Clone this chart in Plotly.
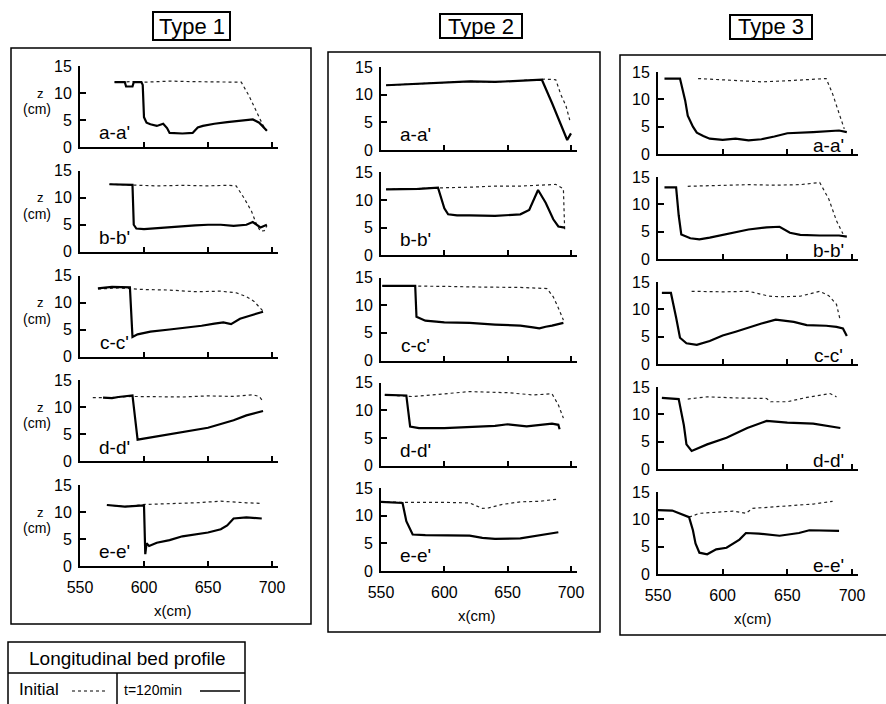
import plotly.graph_objects as go

# ---------------- data (x in cm, z in cm) ----------------
# Type 1
t1a_init_x = [577, 590, 600, 620, 640, 660, 676, 682, 688, 693, 696]
t1a_init_z = [12.0, 12.1, 12.0, 12.2, 12.1, 12.0, 12.0, 9.5, 6.5, 4.0, 3.0]
t1a_fin_x = [577, 585, 586, 591, 592, 598, 599, 600, 601, 602, 605, 610, 615, 618, 620, 630, 638, 642, 646, 655, 665, 675, 685, 690, 696]
t1a_fin_z = [12.0, 12.0, 11.2, 11.2, 12.0, 12.0, 11.5, 5.5, 5.0, 4.5, 4.2, 3.9, 4.3, 3.5, 2.6, 2.5, 2.6, 3.6, 3.9, 4.3, 4.6, 4.9, 5.1, 4.5, 3.0]

t1b_init_x = [573, 590, 610, 630, 650, 665, 672, 678, 684, 688, 691, 694, 696]
t1b_init_z = [12.5, 12.4, 12.2, 12.3, 12.2, 12.3, 12.2, 10.0, 7.5, 5.0, 3.8, 3.9, 4.8]
t1b_fin_x = [573, 585, 591, 592, 594, 600, 610, 620, 630, 640, 650, 660, 670, 680, 685, 688, 691, 696]
t1b_fin_z = [12.5, 12.5, 12.4, 5.0, 4.3, 4.2, 4.4, 4.5, 4.8, 4.9, 5.0, 5.0, 4.8, 5.0, 5.5, 5.0, 4.5, 5.0]

t1c_init_x = [564, 580, 600, 620, 640, 660, 672, 680, 686, 690, 693]
t1c_init_z = [12.5, 12.7, 12.4, 12.3, 12.0, 12.1, 11.8, 11.1, 10.2, 9.2, 8.4]
t1c_fin_x = [564, 575, 589, 590.5, 591, 595, 605, 620, 635, 645, 655, 662, 668, 675, 682, 688, 693]
t1c_fin_z = [12.6, 12.9, 12.8, 4.2, 3.6, 4.1, 4.6, 5.0, 5.4, 5.7, 6.1, 6.3, 6.0, 7.0, 7.5, 7.9, 8.3]

t1d_init_x = [560, 575, 590, 610, 630, 650, 670, 685, 690, 693]
t1d_init_z = [11.8, 11.8, 12.0, 11.9, 11.9, 12.1, 12.0, 12.3, 12.0, 11.1]
t1d_fin_x = [568, 575, 580, 591, 595, 600, 610, 620, 630, 640, 650, 660, 670, 680, 688, 693]
t1d_fin_z = [11.8, 11.7, 11.9, 12.2, 4.0, 4.2, 4.6, 5.0, 5.3, 5.7, 6.2, 6.9, 7.6, 8.5, 9.0, 9.3]

t1e_init_x = [571, 585, 601, 620, 640, 660, 670, 680, 692]
t1e_init_z = [11.3, 11.0, 11.4, 11.5, 11.7, 12.0, 11.8, 11.7, 11.6]
t1e_fin_x = [571, 585, 600, 601, 602, 604, 610, 620, 630, 640, 650, 660, 665, 670, 680, 692]
t1e_fin_z = [11.3, 11.0, 11.2, 2.2, 4.2, 3.7, 4.3, 4.8, 5.5, 5.8, 6.2, 6.8, 7.5, 8.8, 9.0, 8.8]

# Type 2
t2a_init_x = [554, 580, 600, 620, 640, 660, 680, 688, 692, 696, 699]
t2a_init_z = [11.7, 12.0, 12.3, 12.4, 12.3, 12.5, 12.8, 12.7, 10.0, 8.0, 5.4]
t2a_fin_x = [554, 580, 600, 620, 640, 660, 677, 685, 694, 697, 700]
t2a_fin_z = [11.7, 12.0, 12.3, 12.4, 12.3, 12.5, 12.7, 8.5, 3.6, 1.8, 3.0]

t2b_init_x = [554, 580, 600, 620, 640, 660, 675, 688, 694, 695]
t2b_init_z = [11.9, 12.0, 12.2, 12.3, 12.5, 12.5, 12.7, 12.8, 12.0, 4.6]
t2b_fin_x = [554, 580, 595, 600, 603, 610, 620, 640, 660, 667, 674, 680, 686, 690, 695]
t2b_fin_z = [11.9, 12.0, 12.2, 8.5, 7.4, 7.2, 7.2, 7.1, 7.4, 8.2, 11.8, 9.5, 6.5, 5.2, 5.0]

t2c_init_x = [551, 575, 600, 620, 640, 660, 681, 686, 690, 694]
t2c_init_z = [13.5, 13.5, 13.4, 13.3, 13.3, 13.2, 13.0, 11.5, 9.5, 7.3]
t2c_fin_x = [551, 565, 577, 578, 585, 600, 620, 640, 660, 670, 675, 680, 685, 694]
t2c_fin_z = [13.5, 13.5, 13.5, 7.9, 7.2, 6.9, 6.8, 6.5, 6.3, 6.0, 5.8, 6.1, 6.3, 6.8]

t2d_init_x = [553, 575, 600, 620, 650, 670, 685, 690, 694]
t2d_init_z = [12.8, 12.5, 13.0, 13.4, 13.2, 12.8, 13.0, 11.0, 8.6]
t2d_fin_x = [553, 570, 573, 580, 600, 620, 640, 650, 665, 685, 690, 691]
t2d_fin_z = [12.8, 12.7, 7.1, 6.8, 6.8, 7.0, 7.2, 7.5, 7.1, 7.6, 7.4, 6.6]

t2e_init_x = [550, 570, 600, 620, 625, 630, 635, 645, 660, 675, 690]
t2e_init_z = [12.5, 12.4, 12.4, 12.3, 11.8, 11.3, 11.4, 12.0, 12.5, 12.6, 13.0]
t2e_fin_x = [550, 567, 570, 575, 585, 600, 620, 630, 640, 660, 675, 685, 690]
t2e_fin_z = [12.5, 12.3, 9.0, 6.6, 6.5, 6.5, 6.4, 6.0, 5.8, 5.9, 6.4, 6.7, 7.0]

# Type 3
t3a_init_x = [581, 595, 610, 630, 650, 670, 680, 685, 690, 694]
t3a_init_z = [13.8, 13.6, 13.5, 13.2, 13.4, 13.7, 13.8, 11.0, 7.5, 4.6]
t3a_fin_x = [555, 567, 571, 573, 577, 580, 585, 590, 600, 610, 620, 630, 640, 650, 670, 690, 696]
t3a_fin_z = [13.8, 13.8, 9.8, 7.0, 5.0, 3.9, 3.3, 2.8, 2.6, 2.8, 2.5, 2.7, 3.2, 3.8, 4.0, 4.3, 4.0]

t3b_init_x = [573, 600, 620, 640, 660, 675, 682, 688, 693]
t3b_init_z = [13.3, 13.5, 13.6, 13.5, 13.6, 14.0, 11.0, 7.0, 4.6]
t3b_fin_x = [555, 564, 566, 568, 575, 582, 590, 600, 610, 620, 634, 644, 652, 660, 675, 690, 696]
t3b_fin_z = [13.1, 13.1, 8.0, 4.5, 3.8, 3.6, 3.9, 4.4, 5.0, 5.4, 5.8, 5.9, 4.8, 4.4, 4.3, 4.3, 4.1]

t3c_init_x = [576, 600, 620, 636, 645, 660, 675, 682, 688, 691]
t3c_init_z = [13.3, 13.2, 13.3, 12.4, 12.3, 12.4, 13.3, 12.5, 10.9, 7.9]
t3c_fin_x = [553, 560, 564, 567, 572, 580, 590, 600, 610, 620, 630, 641, 655, 665, 680, 688, 693, 696]
t3c_fin_z = [13.0, 13.0, 8.5, 4.8, 3.8, 3.5, 4.2, 5.2, 5.9, 6.7, 7.4, 8.1, 7.7, 7.1, 7.0, 6.8, 6.5, 5.1]

t3d_init_x = [573, 588, 610, 634, 637, 650, 665, 683, 688]
t3d_init_z = [12.8, 13.2, 13.0, 12.9, 12.3, 12.3, 13.1, 13.8, 13.2]
t3d_fin_x = [553, 566, 570, 572, 576, 588, 603, 619, 634, 650, 670, 691]
t3d_fin_z = [13.0, 12.8, 8.0, 4.5, 3.3, 4.5, 5.7, 7.5, 8.8, 8.5, 8.3, 7.5]

t3e_init_x = [574, 582, 608, 618, 623, 649, 670, 685]
t3e_init_z = [10.4, 11.1, 11.5, 11.1, 12.0, 12.5, 12.8, 13.3]
t3e_fin_x = [550, 561, 574, 577, 579, 582, 588, 595, 603, 613, 618, 628, 644, 659, 667, 690]
t3e_fin_z = [11.7, 11.6, 10.4, 8.0, 5.6, 3.9, 3.6, 4.5, 4.8, 6.3, 7.5, 7.4, 7.0, 7.5, 8.0, 7.9]

type_titles = ["Type 1", "Type 2", "Type 3"]
row_labels = ["a-a'", "b-b'", "c-c'", "d-d'", "e-e'"]
x_ticks = [550, 600, 650, 700]
z_ticks = [0, 5, 10, 15]

panels = [
    [(t1a_init_x, t1a_init_z, t1a_fin_x, t1a_fin_z), (t1b_init_x, t1b_init_z, t1b_fin_x, t1b_fin_z),
     (t1c_init_x, t1c_init_z, t1c_fin_x, t1c_fin_z), (t1d_init_x, t1d_init_z, t1d_fin_x, t1d_fin_z),
     (t1e_init_x, t1e_init_z, t1e_fin_x, t1e_fin_z)],
    [(t2a_init_x, t2a_init_z, t2a_fin_x, t2a_fin_z), (t2b_init_x, t2b_init_z, t2b_fin_x, t2b_fin_z),
     (t2c_init_x, t2c_init_z, t2c_fin_x, t2c_fin_z), (t2d_init_x, t2d_init_z, t2d_fin_x, t2d_fin_z),
     (t2e_init_x, t2e_init_z, t2e_fin_x, t2e_fin_z)],
    [(t3a_init_x, t3a_init_z, t3a_fin_x, t3a_fin_z), (t3b_init_x, t3b_init_z, t3b_fin_x, t3b_fin_z),
     (t3c_init_x, t3c_init_z, t3c_fin_x, t3c_fin_z), (t3d_init_x, t3d_init_z, t3d_fin_x, t3d_fin_z),
     (t3e_init_x, t3e_init_z, t3e_fin_x, t3e_fin_z)],
]

# ---------------- layout geometry (pixels) ----------------
W, H = 886, 704
FONT = "Liberation Sans, Arial, sans-serif"


def px(v):
    return v / W


def py(v):
    return 1 - v / H


def txt(x, y, text, size, xref="paper", yref="paper", xanchor="center"):
    return dict(x=x, y=y, xref=xref, yref=yref, text=text, showarrow=False,
                xanchor=xanchor, yanchor="middle",
                font=dict(size=size, family=FONT, color="black"))


COLS = [
    dict(x0=80, s=1.28, top=66, sp=104.75, h=81, lab_x=577, lab_z=2.6),
    dict(x0=381, s=1.2667, top=67, sp=105.25, h=83, lab_x=577, lab_z=2.8),
    dict(x0=658, s=1.2933, top=72, sp=105, h=82, lab_x=682, lab_z=1.6),
]
XMIN, XMAX = 550, 705

fig = go.Figure()
layout = dict(
    width=W, height=H, margin=dict(l=0, r=0, t=0, b=0, pad=0, autoexpand=False),
    paper_bgcolor="white", plot_bgcolor="white", showlegend=False,
    font=dict(family=FONT, color="black"),
)
annotations = []
shapes = []

for c, col in enumerate(COLS):
    for r in range(5):
        idx = c * 5 + r + 1
        sfx = "" if idx == 1 else str(idx)
        top = col["top"] + r * col["sp"]
        bot = top + col["h"]
        xd = [px(col["x0"]), px(col["x0"] + (XMAX - XMIN) * col["s"])]
        yd = [py(bot), py(top)]
        layout["xaxis" + sfx] = dict(
            domain=xd, range=[XMIN, XMAX], anchor="y" + sfx, tickvals=x_ticks,
            ticks="inside", ticklen=5, tickwidth=1.5, tickcolor="black",
            showline=True, linecolor="black", linewidth=2, showgrid=False, zeroline=False,
            showticklabels=(r == 4), tickfont=dict(size=16, family=FONT, color="black"),
            ticklabelstandoff=6, fixedrange=True, automargin=False,
        )
        layout["yaxis" + sfx] = dict(
            domain=yd, range=[0, 15], anchor="x" + sfx, tickvals=z_ticks,
            ticks="inside", ticklen=6, tickwidth=1.5, tickcolor="black",
            showline=True, linecolor="black", linewidth=2, showgrid=False, zeroline=False,
            tickfont=dict(size=16, family=FONT, color="black"),
            ticklabelstandoff=3, fixedrange=True, automargin=False,
        )
        ix, iz, fx, fz = panels[c][r]
        fig.add_trace(go.Scatter(x=ix, y=iz, xaxis="x" + sfx, yaxis="y" + sfx, mode="lines",
                                 line=dict(color="#222", width=1.2, dash="dot"), cliponaxis=False,
                                 hoverinfo="skip"))
        fig.add_trace(go.Scatter(x=fx, y=fz, xaxis="x" + sfx, yaxis="y" + sfx, mode="lines",
                                 line=dict(color="black", width=2.2), cliponaxis=False,
                                 hoverinfo="skip"))
        annotations.append(txt(col["lab_x"], col["lab_z"], row_labels[r], 19,
                               xref="x" + sfx, yref="y" + sfx))
        if c == 0:
            annotations.append(txt(px(40), 10.0, "z", 13, yref="y" + sfx))
            annotations.append(txt(px(37), 7.0, "(cm)", 14, yref="y" + sfx))

# x-axis titles
for cx, cy in [(173, 610), (477, 615), (753, 618)]:
    annotations.append(txt(px(cx), py(cy), "x(cm)", 15))

# panel boxes
for x0, y0, x1, y1 in [(11, 48, 311, 624), (328, 52, 600, 632), (620, 55, 892, 635)]:
    shapes.append(dict(type="rect", xref="paper", yref="paper", x0=px(x0), x1=px(x1),
                       y0=py(y1), y1=py(y0), line=dict(color="black", width=1.5)))

# type title boxes
for t, (x0, y0, x1, y1) in zip(type_titles, [(153, 12, 230, 40), (440, 14, 522, 38), (730, 15, 812, 39)]):
    shapes.append(dict(type="rect", xref="paper", yref="paper", x0=px(x0), x1=px(x1),
                       y0=py(y1), y1=py(y0), line=dict(color="black", width=2)))
    annotations.append(txt(px((x0 + x1) / 2), py((y0 + y1) / 2), t, 22))

# legend table
shapes.append(dict(type="rect", xref="paper", yref="paper", x0=px(8), x1=px(245),
                   y0=py(712), y1=py(642), line=dict(color="black", width=1.5)))
shapes.append(dict(type="line", xref="paper", yref="paper", x0=px(8), x1=px(245),
                   y0=py(673), y1=py(673), line=dict(color="black", width=1.5)))
shapes.append(dict(type="line", xref="paper", yref="paper", x0=px(117), x1=px(117),
                   y0=py(712), y1=py(673), line=dict(color="black", width=1.5)))
shapes.append(dict(type="line", xref="paper", yref="paper", x0=px(72), x1=px(108),
                   y0=py(691), y1=py(691), line=dict(color="black", width=1, dash="dot")))
shapes.append(dict(type="line", xref="paper", yref="paper", x0=px(200), x1=px(240),
                   y0=py(691), y1=py(691), line=dict(color="black", width=1.5)))
annotations.append(txt(px(127), py(658), "Longitudinal bed profile", 19))
annotations.append(txt(px(17), py(689), "Initial", 17, xanchor="left"))
annotations.append(txt(px(122), py(690), "t=120min", 14, xanchor="left"))

layout["annotations"] = annotations
layout["shapes"] = shapes
fig.update_layout(**layout)
fig.write_html("out.html", config={"displayModeBar": False},
               post_script="document.body.style.margin='0';document.body.style.overflow='hidden';")
